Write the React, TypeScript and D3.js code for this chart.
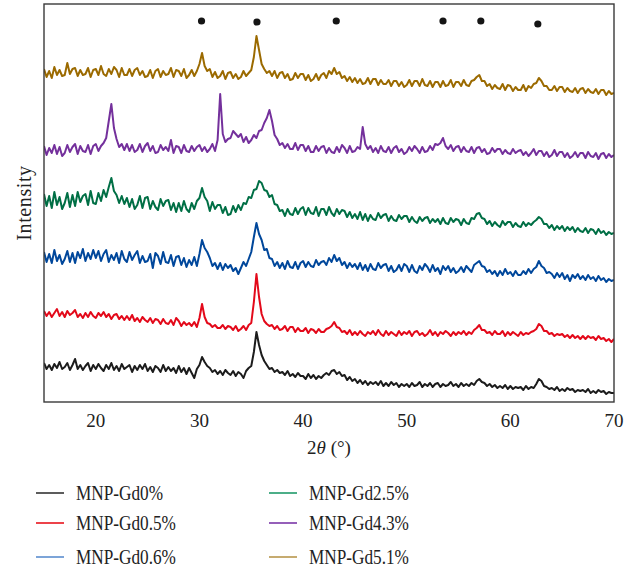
import React from "react";
import * as d3 from "d3";

// 2θ sampling grid (degrees), 0.25° step from 15 to 70
const thetaStart = 15;
const thetaStep = 0.25;

// Intensity traces (a.u., already stacked), one value per 0.25° from 15° to 70°
const gd0: number[] = [
  39, 33, 37, 32, 38, 34, 40, 33, 35, 39, 32, 37, 43, 33, 37, 32, 36, 39, 31, 37,
  33, 38, 34, 31, 37, 33, 39, 32, 36, 31, 38, 33, 35, 37, 30, 36, 32, 37, 33, 38,
  31, 35, 30, 36, 34, 30, 37, 31, 35, 31, 34, 29, 36, 30, 34, 28, 34, 29, 24, 33,
  37, 45, 40, 36, 34, 30, 32, 28, 31, 27, 32, 29, 27, 31, 26, 30, 28, 24, 31, 34,
  36, 50, 70, 57, 47, 41, 37, 33, 34, 30, 32, 29, 30, 27, 31, 26, 28, 25, 29, 26,
  26, 23, 28, 24, 27, 23, 26, 24, 27, 29, 27, 31, 32, 28, 30, 26, 27, 22, 25, 21,
  23, 19, 22, 18, 21, 17, 20, 18, 20, 17, 21, 16, 19, 16, 20, 17, 19, 15, 18, 16,
  18, 15, 19, 16, 17, 20, 15, 18, 16, 19, 15, 18, 19, 15, 18, 16, 17, 20, 16, 18,
  15, 19, 16, 18, 16, 19, 17, 21, 23, 20, 19, 16, 18, 15, 17, 14, 16, 14, 17, 13,
  16, 13, 15, 14, 15, 12, 16, 13, 15, 14, 18, 23, 21, 16, 15, 13, 14, 12, 15, 11,
  13, 11, 14, 12, 13, 10, 12, 11, 12, 10, 13, 9, 11, 9, 12, 10, 11, 8, 10, 9,
  9,
];

const gd05: number[] = [
  91, 86, 90, 85, 89, 93, 86, 90, 85, 91, 87, 89, 92, 85, 88, 84, 89, 85, 90, 86,
  84, 89, 86, 90, 85, 88, 83, 87, 88, 83, 86, 82, 86, 82, 87, 81, 84, 80, 85, 82,
  80, 84, 79, 83, 82, 78, 83, 79, 78, 82, 77, 84, 81, 76, 80, 77, 79, 76, 80, 75,
  84, 98, 85, 79, 78, 75, 77, 74, 74, 77, 73, 76, 75, 72, 76, 71, 73, 76, 72, 77,
  79, 100, 128, 105, 88, 81, 78, 76, 77, 73, 76, 72, 73, 76, 71, 75, 75, 70, 74, 71,
  71, 74, 69, 73, 72, 69, 73, 70, 70, 73, 74, 76, 80, 75, 74, 70, 71, 68, 72, 67,
  70, 67, 71, 68, 66, 70, 68, 71, 67, 72, 68, 66, 71, 67, 70, 68, 66, 71, 67, 70,
  68, 71, 66, 70, 71, 67, 69, 66, 68, 72, 67, 70, 66, 70, 68, 71, 69, 66, 70, 67,
  70, 68, 71, 67, 70, 68, 72, 74, 77, 72, 72, 69, 70, 67, 71, 68, 68, 71, 66, 70,
  67, 70, 68, 66, 70, 67, 69, 68, 70, 71, 73, 78, 76, 71, 71, 68, 69, 66, 68, 67,
  68, 65, 67, 64, 67, 64, 66, 63, 66, 63, 66, 64, 65, 62, 66, 63, 64, 61, 63, 60,
  63,
];

const gd06: number[] = [
  150, 140, 148, 139, 152, 141, 147, 138, 143, 151, 140, 149, 139, 150, 144, 153, 141, 149, 143, 152,
  144, 151, 141, 148, 152, 140, 147, 142, 149, 139, 151, 143, 140, 150, 142, 147, 151, 139, 146, 140,
  141, 148, 134, 149, 146, 138, 150, 140, 139, 147, 136, 145, 146, 137, 144, 135, 142, 137, 145, 136,
  148, 162, 154, 150, 144, 136, 139, 133, 139, 132, 138, 134, 137, 131, 134, 128, 134, 140, 136, 143,
  150, 165, 179, 168, 162, 152, 153, 144, 143, 136, 140, 134, 139, 133, 141, 135, 134, 140, 133, 139,
  141, 135, 140, 136, 135, 142, 137, 140, 141, 137, 144, 140, 147, 141, 144, 137, 140, 134, 139, 135,
  138, 133, 139, 132, 137, 131, 138, 133, 132, 139, 134, 137, 138, 131, 136, 130, 132, 137, 131, 138,
  136, 130, 137, 131, 129, 136, 132, 138, 135, 130, 137, 131, 134, 128, 136, 132, 136, 130, 134, 129,
  131, 135, 130, 136, 133, 130, 137, 139, 141, 136, 135, 130, 132, 128, 131, 126, 131, 127, 133, 128,
  130, 126, 131, 127, 127, 131, 128, 133, 129, 133, 135, 141, 136, 134, 129, 130, 128, 124, 129, 125,
  129, 123, 127, 121, 127, 124, 128, 123, 126, 122, 127, 123, 125, 121, 126, 122, 124, 120, 123, 121,
  122,
];

const gd25: number[] = [
  208, 196, 206, 194, 210, 197, 205, 193, 199, 209, 195, 207, 196, 210, 200, 206, 208, 197, 211, 199,
  198, 209, 201, 212, 205, 215, 224, 211, 207, 199, 206, 198, 204, 195, 203, 193, 197, 206, 194, 204,
  205, 193, 201, 195, 192, 203, 196, 201, 202, 192, 199, 190, 199, 191, 201, 193, 190, 199, 193, 201,
  204, 214, 205, 201, 191, 200, 193, 197, 197, 189, 195, 187, 188, 196, 190, 197, 192, 199, 198, 205,
  204, 212, 213, 221, 219, 212, 211, 205, 207, 198, 197, 191, 192, 186, 193, 188, 187, 194, 188, 193,
  195, 187, 194, 189, 188, 195, 186, 193, 193, 187, 195, 189, 186, 193, 188, 192, 191, 185, 190, 184,
  188, 183, 190, 182, 188, 181, 187, 183, 182, 189, 184, 187, 188, 181, 186, 182, 181, 187, 183, 186,
  186, 180, 185, 181, 179, 185, 181, 184, 185, 179, 183, 180, 183, 178, 184, 179, 178, 184, 180, 183,
  182, 177, 183, 179, 178, 184, 183, 188, 189, 184, 183, 178, 181, 176, 180, 177, 175, 181, 177, 180,
  180, 175, 179, 176, 175, 180, 176, 179, 177, 180, 182, 185, 183, 178, 178, 174, 177, 172, 176, 173,
  176, 171, 175, 172, 175, 170, 174, 171, 170, 174, 169, 173, 172, 168, 173, 169, 171, 167, 170, 168,
  169,
];

const gd43: number[] = [
  256, 247, 254, 249, 257, 248, 255, 246, 249, 257, 250, 255, 258, 248, 256, 251, 250, 257, 248, 256,
  258, 251, 256, 259, 264, 281, 298, 274, 263, 255, 258, 252, 258, 251, 257, 250, 252, 258, 250, 256,
  259, 251, 256, 249, 250, 257, 252, 255, 251, 262, 249, 256, 255, 249, 257, 251, 250, 256, 251, 255,
  257, 251, 255, 250, 253, 258, 251, 262, 308, 268, 260, 263, 264, 271, 268, 265, 268, 260, 265, 259,
  262, 267, 264, 271, 272, 279, 284, 292, 281, 267, 263, 257, 259, 254, 258, 253, 253, 259, 252, 257,
  257, 251, 256, 250, 250, 256, 251, 255, 256, 249, 254, 250, 249, 255, 250, 257, 254, 249, 256, 250,
  251, 255, 253, 275, 258, 253, 256, 250, 254, 249, 256, 251, 250, 255, 249, 254, 256, 250, 253, 248,
  250, 255, 251, 256, 253, 249, 255, 250, 251, 256, 252, 258, 257, 259, 264, 256, 253, 257, 251, 255,
  256, 250, 255, 251, 250, 255, 249, 254, 255, 250, 253, 248, 249, 254, 250, 253, 253, 248, 252, 249,
  248, 253, 249, 251, 252, 247, 250, 246, 249, 253, 247, 251, 251, 246, 250, 245, 247, 252, 246, 250,
  250, 245, 249, 244, 246, 250, 245, 249, 249, 244, 250, 246, 245, 249, 243, 248, 249, 244, 248, 245,
  247,
];

const gd51: number[] = [
  333, 325, 331, 324, 335, 327, 332, 326, 327, 339, 328, 333, 334, 326, 332, 327, 328, 334, 325, 332,
  333, 327, 336, 328, 326, 333, 328, 335, 332, 325, 334, 327, 327, 333, 326, 332, 334, 327, 331, 325,
  326, 332, 324, 331, 333, 325, 331, 327, 328, 334, 325, 332, 331, 326, 333, 324, 327, 332, 326, 331,
  338, 349, 336, 331, 333, 325, 330, 324, 326, 331, 323, 329, 330, 324, 328, 323, 325, 331, 326, 329,
  332, 345, 366, 352, 338, 333, 329, 331, 326, 331, 324, 329, 330, 324, 328, 322, 323, 329, 324, 328,
  328, 322, 327, 321, 323, 328, 322, 327, 329, 324, 331, 328, 334, 328, 330, 324, 326, 321, 325, 320,
  324, 319, 323, 318, 319, 324, 318, 323, 323, 317, 322, 318, 318, 322, 316, 321, 321, 316, 320, 315,
  317, 322, 316, 321, 321, 316, 323, 317, 316, 321, 315, 320, 320, 315, 321, 316, 317, 322, 315, 320,
  320, 316, 322, 317, 316, 321, 322, 325, 327, 321, 321, 316, 318, 313, 317, 314, 313, 318, 312, 317,
  316, 311, 315, 312, 312, 317, 311, 316, 314, 318, 319, 324, 321, 316, 316, 312, 312, 316, 311, 315,
  315, 310, 314, 311, 310, 314, 309, 313, 314, 309, 313, 310, 309, 313, 308, 312, 312, 307, 311, 308,
  309,
];

const seriesNames = ["MNP-Gd0%", "MNP-Gd0.5%", "MNP-Gd0.6%", "MNP-Gd2.5%", "MNP-Gd4.3%", "MNP-Gd5.1%"];
const seriesValues = [gd0, gd05, gd06, gd25, gd43, gd51];
const lineColors = ["#1c1c1c", "#e3091a", "#00479b", "#006f45", "#74309c", "#9b6a00"];
const legendColors = ["#333333", "#e8141c", "#5b8dcf", "#1f9a6a", "#7a36a8", "#b8964c"];

// Reference reflection markers (2θ, marker height in a.u.)
const markerTheta = [30.2, 35.55, 43.2, 53.5, 57.15, 62.65];
const markerLevel = [381, 380, 381, 381, 381, 378];

const xTicks = [20, 30, 40, 50, 60, 70];
const xDomain: [number, number] = [15, 70];
const yDomain: [number, number] = [0, 400];

const W = 639;
const H = 570;
const plot = { left: 44, right: 614, top: 4, bottom: 402 };

export default function App() {
  const x = d3.scaleLinear().domain(xDomain).range([plot.left, plot.right]);
  const y = d3.scaleLinear().domain(yDomain).range([plot.bottom, plot.bottom - 400]);

  const line = d3
    .line<number>()
    .x((_, i) => x(thetaStart + i * thetaStep))
    .y((d) => y(d));

  const font = "'Liberation Serif', 'DejaVu Serif', serif";

  return (
    <svg
      width={W}
      height={H}
      style={{ position: "absolute", left: 0, top: 0, background: "#fff" }}
      fontFamily={font}
    >
      <rect x={0} y={0} width={W} height={H} fill="#fff" />
      <defs>
        <clipPath id="plotclip">
          <rect x={plot.left} y={plot.top} width={plot.right - plot.left} height={plot.bottom - plot.top} />
        </clipPath>
      </defs>
      <g clipPath="url(#plotclip)">
        {seriesValues.map((vals, k) => (
          <path
            key={seriesNames[k]}
            d={line(vals) || ""}
            fill="none"
            stroke={lineColors[k]}
            strokeWidth={2}
            strokeLinejoin="round"
          />
        ))}
      </g>
      {markerTheta.map((t, i) => (
        <circle key={t} cx={x(t)} cy={y(markerLevel[i])} r={3.6} fill="#151515" />
      ))}
      <rect
        x={plot.left}
        y={plot.top}
        width={plot.right - plot.left}
        height={plot.bottom - plot.top}
        fill="none"
        stroke="#3a3a3a"
        strokeWidth={1.4}
      />
      {xTicks.map((t) => (
        <text key={t} x={x(t)} y={427} textAnchor="middle" fontSize={19} fill="#222">
          {t}
        </text>
      ))}
      <text x={x(42.5)} y={454} textAnchor="middle" fontSize={19} fill="#222">
        2<tspan fontStyle="italic">θ</tspan> (°)
      </text>
      <text
        transform={`translate(31, ${(plot.top + plot.bottom) / 2}) rotate(-90)`}
        textAnchor="middle"
        fontSize={20}
        letterSpacing={0.6}
        fill="#222"
      >
        Intensity
      </text>
      {seriesNames.map((name, k) => {
        const col = Math.floor(k / 3);
        const row = k % 3;
        const lx = col === 0 ? 36 : 269;
        const ly = [493, 523, 557][row];
        return (
          <g key={name}>
            <line x1={lx} x2={lx + 28} y1={ly} y2={ly} stroke={legendColors[k]} strokeWidth={1.6} />
            <text
              transform={`translate(${lx + 40}, ${ly + 6.5}) scale(0.84, 1)`}
              fontSize={20.5}
              fill="#222"
            >
              {name}
            </text>
          </g>
        );
      })}
    </svg>
  );
}
